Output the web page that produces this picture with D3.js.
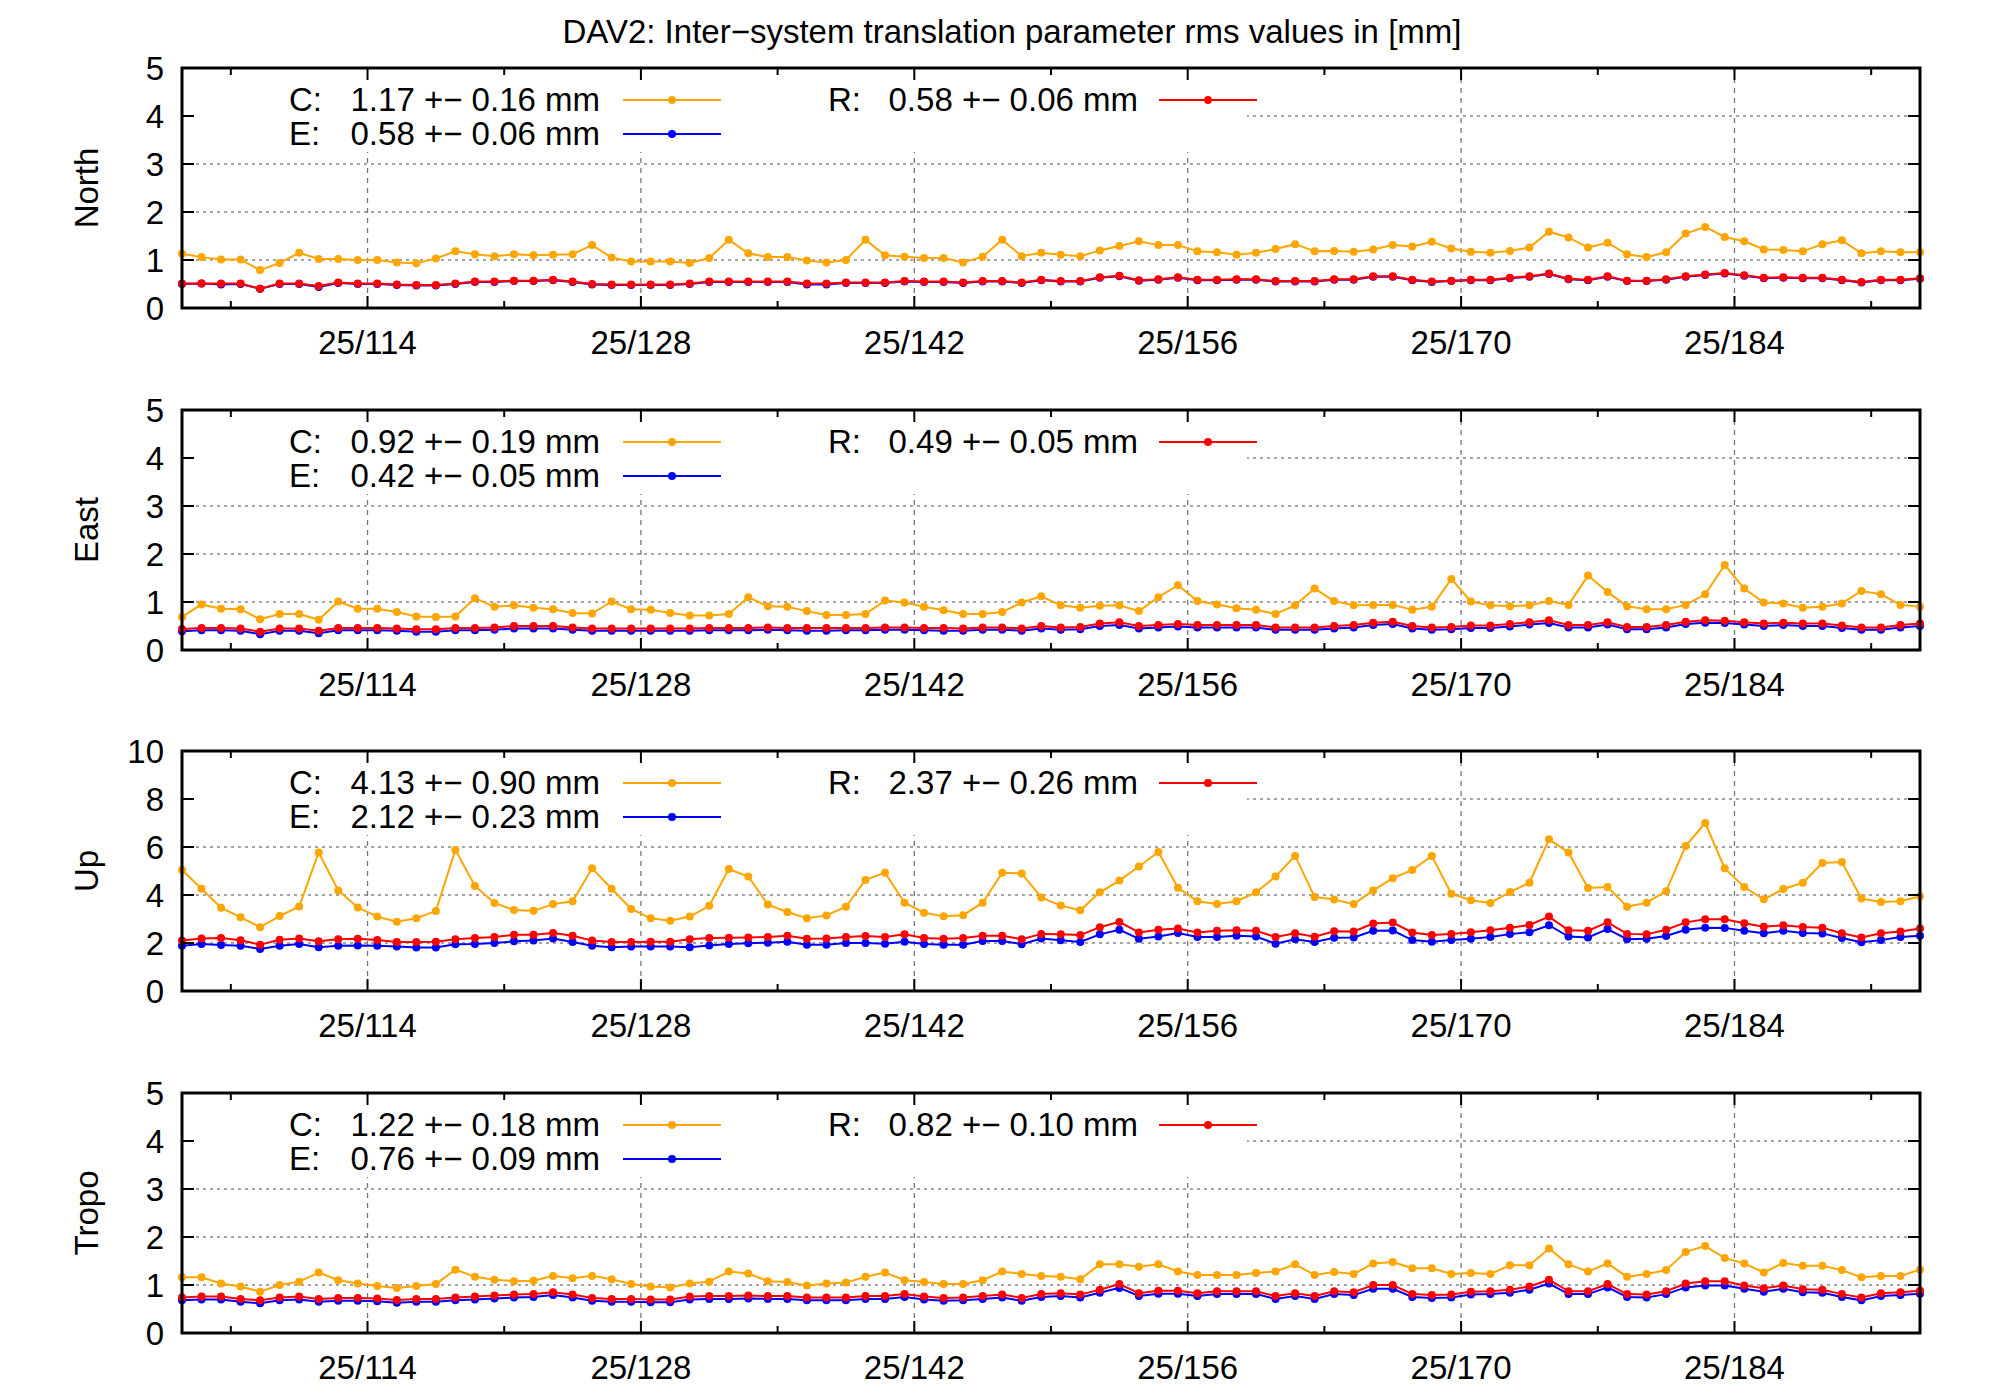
<!DOCTYPE html>
<html><head><meta charset="utf-8">
<script src="https://cdn.jsdelivr.net/npm/d3@7"></script>
<style>body{margin:0;background:#fff}svg{font-family:"Liberation Sans",Arial,sans-serif}</style>
</head><body><svg id="c" width="2000" height="1400"></svg>
<script>
const title = "DAV2: Inter\u2212system translation parameter rms values in [mm]";
const firstDay = 104.5;
const majorTicks = [114,128,142,156,170,184];
const minorTicks = [107,121,135,149,163,177,191];
const panelNames = ["North","East","Up","Tropo"];
const yMax = [5,5,10,5];
const seriesNames = ["C","E","R"];
const seriesColors = ["#ffa500","#0000ff","#ff0000"];
const legendNorth = ["1.17 +\u2212 0.16 mm","0.58 +\u2212 0.06 mm","0.58 +\u2212 0.06 mm"];
const legendEast  = ["0.92 +\u2212 0.19 mm","0.42 +\u2212 0.05 mm","0.49 +\u2212 0.05 mm"];
const legendUp    = ["4.13 +\u2212 0.90 mm","2.12 +\u2212 0.23 mm","2.37 +\u2212 0.26 mm"];
const legendTropo = ["1.22 +\u2212 0.18 mm","0.76 +\u2212 0.09 mm","0.82 +\u2212 0.10 mm"];

const northC=[1.13,1.06,1.01,1.01,0.79,0.94,1.15,1.02,1.02,1.0,1.0,0.95,0.93,1.03,1.18,1.12,1.08,1.12,1.10,1.11,1.12,1.31,1.05,0.97,0.97,0.97,0.94,1.04,1.42,1.14,
1.06,1.06,0.99,0.95,1.0,1.42,1.10,1.07,1.04,1.04,0.95,1.07,1.42,1.08,1.15,1.11,1.08,1.20,1.29,1.39,1.31,1.31,1.18,1.16,1.11,1.15,1.23,1.33,1.18,1.19,
1.17,1.22,1.31,1.28,1.38,1.24,1.17,1.15,1.19,1.26,1.59,1.47,1.26,1.36,1.12,1.06,1.16,1.55,1.69,1.48,1.39,1.22,1.21,1.18,1.33,1.41,1.14,1.18,1.16,1.16];
const northE=[0.50,0.51,0.49,0.50,0.40,0.50,0.50,0.44,0.52,0.50,0.50,0.48,0.47,0.47,0.50,0.54,0.54,0.56,0.56,0.58,0.54,0.49,0.48,0.48,0.48,0.48,0.50,0.54,0.54,0.54,
0.54,0.54,0.49,0.49,0.52,0.52,0.52,0.55,0.54,0.54,0.52,0.55,0.55,0.52,0.58,0.55,0.55,0.63,0.66,0.57,0.59,0.63,0.58,0.58,0.59,0.59,0.55,0.55,0.55,0.59,
0.59,0.65,0.65,0.58,0.54,0.56,0.58,0.58,0.62,0.65,0.71,0.60,0.58,0.65,0.56,0.56,0.59,0.65,0.69,0.72,0.67,0.62,0.63,0.62,0.62,0.58,0.53,0.58,0.58,0.61];
const northR=[0.51,0.51,0.51,0.51,0.40,0.51,0.51,0.46,0.53,0.51,0.51,0.49,0.48,0.48,0.51,0.55,0.55,0.57,0.57,0.59,0.55,0.50,0.49,0.49,0.49,0.49,0.51,0.55,0.55,0.55,
0.55,0.55,0.51,0.51,0.53,0.53,0.53,0.56,0.55,0.55,0.53,0.56,0.56,0.53,0.59,0.56,0.56,0.64,0.67,0.58,0.60,0.64,0.59,0.59,0.60,0.60,0.56,0.56,0.56,0.60,
0.60,0.66,0.66,0.59,0.55,0.57,0.59,0.59,0.63,0.66,0.72,0.61,0.59,0.66,0.57,0.57,0.60,0.66,0.70,0.73,0.68,0.63,0.64,0.63,0.63,0.59,0.54,0.59,0.59,0.62];

const eastC=[0.69,0.95,0.86,0.85,0.64,0.75,0.75,0.63,1.01,0.86,0.86,0.79,0.70,0.69,0.70,1.08,0.90,0.93,0.88,0.85,0.77,0.76,1.01,0.85,0.84,0.77,0.72,0.72,0.75,1.10,
0.91,0.90,0.81,0.73,0.73,0.75,1.03,0.99,0.90,0.83,0.75,0.75,0.79,0.99,1.12,0.93,0.88,0.92,0.93,0.81,1.10,1.35,1.02,0.95,0.87,0.84,0.75,0.93,1.28,1.02,
0.93,0.94,0.94,0.84,0.90,1.48,1.01,0.93,0.91,0.93,1.02,0.94,1.55,1.21,0.91,0.85,0.85,0.94,1.16,1.77,1.28,0.99,0.97,0.88,0.90,0.97,1.23,1.16,0.94,0.90];
const eastE=[0.39,0.41,0.41,0.40,0.33,0.40,0.40,0.35,0.41,0.41,0.41,0.40,0.38,0.38,0.41,0.41,0.42,0.45,0.45,0.45,0.42,0.40,0.40,0.40,0.40,0.40,0.40,0.41,0.41,0.41,
0.42,0.41,0.40,0.40,0.41,0.41,0.42,0.42,0.41,0.40,0.40,0.42,0.42,0.40,0.45,0.42,0.43,0.50,0.52,0.45,0.47,0.49,0.47,0.47,0.47,0.47,0.42,0.42,0.42,0.45,
0.47,0.52,0.54,0.45,0.42,0.43,0.46,0.46,0.49,0.53,0.56,0.47,0.47,0.53,0.43,0.43,0.47,0.54,0.57,0.56,0.53,0.50,0.52,0.50,0.50,0.46,0.42,0.42,0.47,0.50];
const eastR=[0.44,0.46,0.46,0.45,0.38,0.45,0.45,0.40,0.46,0.46,0.46,0.45,0.43,0.43,0.46,0.46,0.47,0.50,0.50,0.50,0.47,0.45,0.45,0.45,0.45,0.45,0.45,0.46,0.46,0.46,
0.47,0.46,0.46,0.46,0.46,0.46,0.47,0.47,0.46,0.46,0.45,0.47,0.47,0.45,0.50,0.47,0.48,0.55,0.58,0.50,0.52,0.54,0.52,0.52,0.52,0.52,0.47,0.47,0.47,0.50,
0.52,0.57,0.59,0.50,0.47,0.48,0.51,0.51,0.54,0.58,0.62,0.52,0.52,0.58,0.48,0.48,0.52,0.59,0.62,0.61,0.58,0.55,0.57,0.55,0.55,0.51,0.47,0.47,0.52,0.55];

const upC=[5.04,4.26,3.47,3.07,2.66,3.12,3.52,5.77,4.19,3.48,3.10,2.89,3.03,3.33,5.88,4.38,3.67,3.37,3.34,3.62,3.74,5.11,4.26,3.42,3.03,2.93,3.10,3.55,5.08,4.77,
3.60,3.29,3.03,3.15,3.51,4.63,4.93,3.68,3.26,3.11,3.16,3.68,4.93,4.90,3.90,3.56,3.36,4.11,4.60,5.19,5.79,4.30,3.74,3.63,3.74,4.11,4.77,5.63,3.92,3.81,
3.62,4.19,4.70,5.04,5.63,4.05,3.78,3.67,4.12,4.51,6.32,5.77,4.29,4.33,3.51,3.68,4.16,6.04,7.00,5.11,4.33,3.82,4.25,4.51,5.33,5.37,3.85,3.71,3.74,3.95];
const upE=[1.89,1.96,1.92,1.89,1.75,1.89,1.96,1.82,1.89,1.90,1.89,1.85,1.81,1.81,1.95,1.96,2.00,2.07,2.10,2.19,2.04,1.89,1.82,1.85,1.85,1.85,1.82,1.90,1.96,1.99,
2.01,2.05,1.93,1.93,2.00,2.00,1.97,2.05,1.96,1.93,1.93,2.08,2.08,1.95,2.19,2.11,2.04,2.36,2.55,2.18,2.27,2.42,2.25,2.25,2.30,2.27,1.97,2.16,2.04,2.22,
2.23,2.51,2.52,2.12,2.05,2.12,2.18,2.25,2.37,2.45,2.74,2.27,2.23,2.58,2.16,2.18,2.29,2.55,2.64,2.63,2.51,2.41,2.51,2.42,2.40,2.21,2.03,2.12,2.25,2.30];
const upR=[2.10,2.19,2.21,2.11,1.93,2.14,2.19,2.07,2.16,2.18,2.12,2.04,2.04,2.05,2.16,2.21,2.25,2.34,2.34,2.42,2.30,2.10,2.04,2.04,2.05,2.05,2.16,2.21,2.22,2.23,
2.25,2.30,2.18,2.19,2.25,2.29,2.25,2.36,2.21,2.18,2.21,2.30,2.30,2.16,2.38,2.36,2.33,2.66,2.88,2.44,2.55,2.60,2.44,2.51,2.53,2.51,2.25,2.41,2.26,2.49,
2.48,2.81,2.85,2.44,2.33,2.37,2.45,2.53,2.64,2.75,3.10,2.53,2.51,2.86,2.38,2.36,2.55,2.86,2.99,2.99,2.82,2.68,2.74,2.67,2.64,2.41,2.23,2.41,2.48,2.60];

const tropoC=[1.16,1.16,1.03,0.97,0.86,1.00,1.07,1.26,1.10,1.03,0.98,0.94,0.98,1.02,1.32,1.17,1.11,1.08,1.09,1.19,1.14,1.19,1.12,1.02,0.97,0.95,1.03,1.07,1.28,1.24,
1.08,1.06,0.99,1.03,1.05,1.17,1.26,1.10,1.06,1.02,1.02,1.10,1.28,1.23,1.19,1.17,1.12,1.43,1.43,1.38,1.43,1.28,1.21,1.21,1.21,1.25,1.28,1.43,1.21,1.27,
1.23,1.45,1.48,1.35,1.35,1.23,1.25,1.23,1.41,1.41,1.76,1.43,1.28,1.45,1.17,1.23,1.31,1.69,1.81,1.56,1.45,1.26,1.46,1.40,1.40,1.31,1.16,1.19,1.19,1.32];
const tropoE=[0.68,0.70,0.70,0.65,0.62,0.68,0.70,0.65,0.67,0.67,0.66,0.63,0.65,0.65,0.68,0.70,0.72,0.74,0.75,0.79,0.74,0.67,0.65,0.65,0.64,0.64,0.70,0.71,0.71,0.72,
0.71,0.71,0.68,0.68,0.68,0.71,0.71,0.75,0.70,0.67,0.68,0.71,0.74,0.67,0.75,0.77,0.74,0.84,0.94,0.77,0.82,0.82,0.77,0.81,0.81,0.81,0.71,0.77,0.71,0.81,
0.79,0.92,0.92,0.75,0.73,0.74,0.80,0.81,0.84,0.90,1.03,0.81,0.81,0.95,0.75,0.74,0.81,0.95,0.99,0.99,0.92,0.86,0.92,0.85,0.84,0.75,0.68,0.77,0.79,0.82];
const tropoR=[0.74,0.76,0.76,0.71,0.68,0.74,0.76,0.71,0.73,0.73,0.72,0.69,0.71,0.71,0.74,0.76,0.78,0.80,0.81,0.85,0.80,0.73,0.71,0.71,0.70,0.70,0.76,0.77,0.77,0.78,
0.77,0.77,0.74,0.74,0.74,0.77,0.77,0.81,0.76,0.73,0.74,0.77,0.80,0.73,0.81,0.83,0.80,0.90,1.02,0.83,0.88,0.88,0.83,0.87,0.87,0.87,0.77,0.83,0.77,0.87,
0.85,1.00,1.00,0.81,0.79,0.80,0.86,0.87,0.90,0.97,1.11,0.87,0.87,1.02,0.81,0.80,0.87,1.03,1.08,1.08,0.99,0.93,0.99,0.91,0.90,0.81,0.74,0.83,0.85,0.88];

const panelSeries=[[northC,northE,northR],[eastC,eastE,eastR],[upC,upE,upR],[tropoC,tropoE,tropoR]];
const panelLegends=[legendNorth,legendEast,legendUp,legendTropo];

const svg=d3.select("#c");
const L=182,R=1920,H=240;
const tops=[68,410,751,1093];
const days=northC.map((_,i)=>firstDay+i);
const x=d3.scaleLinear().domain([firstDay,firstDay+days.length-1]).range([L,R]);
const fs=33;

svg.append("text").attr("x",1012).attr("y",43).attr("text-anchor","middle")
  .attr("font-size",fs).text(title);

panelNames.forEach((name,p)=>{
  const top=tops[p], bot=top+H;
  const y=d3.scaleLinear().domain([0,yMax[p]]).range([bot,top]);
  const yt=d3.range(0,yMax[p]+0.001,yMax[p]/5);
  const g=svg.append("g");
  yt.filter(v=>v>0&&v<yMax[p]).forEach(v=>{
    g.append("line").attr("x1",L).attr("x2",R).attr("y1",y(v)).attr("y2",y(v))
      .attr("stroke","#888").attr("stroke-width",1.3).attr("stroke-dasharray","3,4");
  });
  majorTicks.forEach(t=>{
    g.append("line").attr("x1",x(t)).attr("x2",x(t)).attr("y1",top).attr("y2",bot)
      .attr("stroke","#777").attr("stroke-width",1.3).attr("stroke-dasharray","5,5");
  });
  g.append("rect").attr("x",L+2).attr("y",top+2).attr("width",1245-L).attr("height",82).attr("fill","#fff");
  panelSeries[p].forEach((vals,s)=>{
    const line=d3.line().x((d,i)=>x(days[i])).y(d=>y(d));
    g.append("path").attr("d",line(vals)).attr("fill","none").attr("stroke",seriesColors[s]).attr("stroke-width",2);
    g.selectAll(null).data(vals).enter().append("circle")
      .attr("cx",(d,i)=>x(days[i])).attr("cy",d=>y(d)).attr("r",4).attr("fill",seriesColors[s]);
  });
  const leg=[{s:0,lx:289,tx:600,ly0:623,ly:top+32},{s:1,lx:289,tx:600,ly0:623,ly:top+66},{s:2,lx:828,tx:1138,ly0:1159,ly:top+32}];
  leg.forEach(o=>{
    g.append("text").attr("x",o.lx).attr("y",o.ly+11).attr("font-size",fs).text(seriesNames[o.s]+":");
    g.append("text").attr("x",o.tx).attr("y",o.ly+11).attr("font-size",fs).attr("text-anchor","end").text(panelLegends[p][o.s]);
    g.append("line").attr("x1",o.ly0).attr("x2",o.ly0+98).attr("y1",o.ly).attr("y2",o.ly).attr("stroke",seriesColors[o.s]).attr("stroke-width",2);
    g.append("circle").attr("cx",o.ly0+49).attr("cy",o.ly).attr("r",4).attr("fill",seriesColors[o.s]);
  });
  majorTicks.forEach(t=>{
    g.append("line").attr("x1",x(t)).attr("x2",x(t)).attr("y1",bot).attr("y2",bot-12).attr("stroke","#000").attr("stroke-width",2);
    g.append("line").attr("x1",x(t)).attr("x2",x(t)).attr("y1",top).attr("y2",top+12).attr("stroke","#000").attr("stroke-width",2);
    g.append("text").attr("x",x(t)).attr("y",bot+46).attr("text-anchor","middle").attr("font-size",fs).text("25/"+t);
  });
  minorTicks.forEach(t=>{
    g.append("line").attr("x1",x(t)).attr("x2",x(t)).attr("y1",bot).attr("y2",bot-7).attr("stroke","#000").attr("stroke-width",2);
    g.append("line").attr("x1",x(t)).attr("x2",x(t)).attr("y1",top).attr("y2",top+7).attr("stroke","#000").attr("stroke-width",2);
  });
  yt.forEach(v=>{
    g.append("line").attr("x1",L).attr("x2",L+12).attr("y1",y(v)).attr("y2",y(v)).attr("stroke","#000").attr("stroke-width",2);
    g.append("line").attr("x1",R).attr("x2",R-12).attr("y1",y(v)).attr("y2",y(v)).attr("stroke","#000").attr("stroke-width",2);
    g.append("text").attr("x",L-18).attr("y",y(v)+12).attr("text-anchor","end").attr("font-size",fs).text(v);
  });
  g.append("rect").attr("x",L).attr("y",top).attr("width",R-L).attr("height",H)
    .attr("fill","none").attr("stroke","#000").attr("stroke-width",3);
  g.append("text").attr("transform",`translate(98,${top+H/2}) rotate(-90)`)
    .attr("text-anchor","middle").attr("font-size",fs).text(name);
});
</script></body></html>
